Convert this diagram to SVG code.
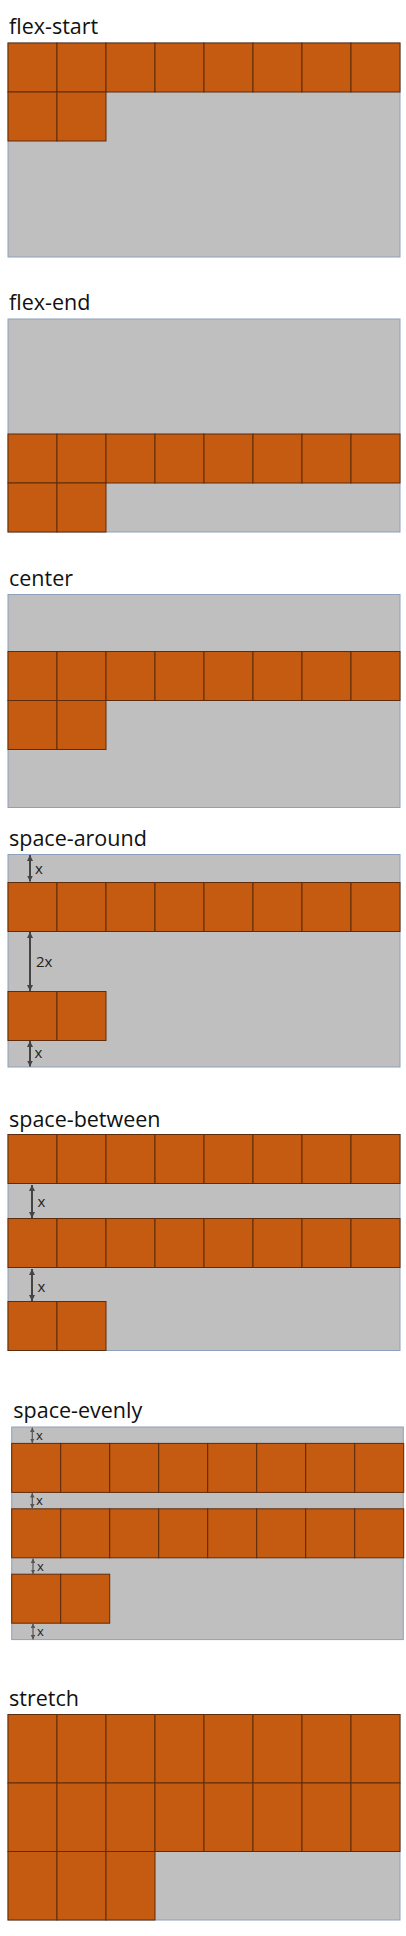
<svg xmlns="http://www.w3.org/2000/svg" width="406" height="1936" viewBox="0 0 406 1936">
<style>
.bg{fill:#FFFFFF}
.box{fill:#BFBFBF;stroke:#8EA1BC;stroke-width:1}
.cell{fill:#C55A11;stroke:#5E2B0B;stroke-width:1}
.title{font-family:"Open Sans","Noto Sans",sans-serif;font-size:21.5px;fill:#111111}
.lbl{font-family:"Open Sans","Noto Sans",sans-serif;font-size:15px;fill:#222222}
.lbls{font-family:"Open Sans","Noto Sans",sans-serif;font-size:13px;fill:#222222}
.dim{stroke:#444444;stroke-width:2;fill:none;marker-start:url(#ah);marker-end:url(#ah)}
.dims{stroke:#555555;stroke-width:1.2;fill:none;marker-start:url(#ahs);marker-end:url(#ahs)}
</style>
<defs>
<marker id="ah" viewBox="0 0 6 6" refX="6" refY="3" markerWidth="6" markerHeight="6" markerUnits="userSpaceOnUse" orient="auto-start-reverse"><path d="M0,0 L6,3 L0,6 z" fill="#444444"/></marker>
<marker id="ahs" viewBox="0 0 5 5" refX="5" refY="2.5" markerWidth="4.5" markerHeight="4.5" markerUnits="userSpaceOnUse" orient="auto-start-reverse"><path d="M0,0 L5,2.5 L0,5 z" fill="#555555"/></marker>
<g id="row8">
<rect class="cell" x="8" y="0" width="49" height="49"/><rect class="cell" x="57" y="0" width="49" height="49"/><rect class="cell" x="106" y="0" width="49" height="49"/><rect class="cell" x="155" y="0" width="49" height="49"/><rect class="cell" x="204" y="0" width="49" height="49"/><rect class="cell" x="253" y="0" width="49" height="49"/><rect class="cell" x="302" y="0" width="49" height="49"/><rect class="cell" x="351" y="0" width="49" height="49"/>
</g>
<g id="row2">
<rect class="cell" x="8" y="0" width="49" height="49"/><rect class="cell" x="57" y="0" width="49" height="49"/>
</g>
</defs>
<rect class="bg" x="0" y="0" width="406" height="1936"/>

<g id="flex-start">
<text class="title" x="9" y="34">flex-start</text>
<rect class="box" x="8" y="43" width="392" height="214"/>
<use href="#row8" y="43"/>
<use href="#row2" y="92"/>
</g>

<g id="flex-end">
<text class="title" x="9" y="310">flex-end</text>
<rect class="box" x="8" y="319" width="392" height="213"/>
<use href="#row8" y="434"/>
<use href="#row2" y="483"/>
</g>

<g id="center">
<text class="title" x="9" y="586">center</text>
<rect class="box" x="8" y="594.5" width="392" height="213"/>
<use href="#row8" y="651.5"/>
<use href="#row2" y="700.5"/>
</g>

<g id="space-around">
<text class="title" x="9" y="846">space-around</text>
<rect class="box" x="8" y="854.5" width="392" height="212.5"/>
<use href="#row8" y="882.5"/>
<use href="#row2" y="991.5"/>
<text class="lbl" x="35" y="874">x</text>
<text class="lbl" x="36" y="967">2x</text>
<text class="lbl" x="34.5" y="1058">x</text>
</g>

<g id="space-between">
<text class="title" x="9" y="1126.7">space-between</text>
<rect class="box" x="8" y="1134.5" width="392" height="216"/>
<use href="#row8" y="1134.5"/>
<use href="#row8" y="1218.5"/>
<use href="#row2" y="1301.5"/>
<text class="lbl" x="37.5" y="1207">x</text>
<text class="lbl" x="37.5" y="1291.5">x</text>
</g>

<g id="space-evenly">
<text class="title" x="13.3" y="1418.3">space-evenly</text>
<rect class="box" x="11.7" y="1427" width="391.6" height="212.6"/>
<use href="#row8" x="3.7" y="1443.4"/>
<use href="#row8" x="3.7" y="1508.8"/>
<use href="#row2" x="3.7" y="1574.2"/>
<text class="lbls" x="36" y="1439.5">x</text>
<text class="lbls" x="36" y="1505">x</text>
<text class="lbls" x="37" y="1570.7">x</text>
<text class="lbls" x="37" y="1636">x</text>
</g>

<g id="stretch">
<text class="title" x="9" y="1705.7">stretch</text>
<rect class="box" x="8" y="1714.5" width="392" height="205.5"/>
<g id="stretch-cells">
<rect class="cell" x="8" y="1714.5" width="49" height="68.5"/><rect class="cell" x="57" y="1714.5" width="49" height="68.5"/><rect class="cell" x="106" y="1714.5" width="49" height="68.5"/><rect class="cell" x="155" y="1714.5" width="49" height="68.5"/><rect class="cell" x="204" y="1714.5" width="49" height="68.5"/><rect class="cell" x="253" y="1714.5" width="49" height="68.5"/><rect class="cell" x="302" y="1714.5" width="49" height="68.5"/><rect class="cell" x="351" y="1714.5" width="49" height="68.5"/>
<rect class="cell" x="8" y="1783" width="49" height="68.5"/><rect class="cell" x="57" y="1783" width="49" height="68.5"/><rect class="cell" x="106" y="1783" width="49" height="68.5"/><rect class="cell" x="155" y="1783" width="49" height="68.5"/><rect class="cell" x="204" y="1783" width="49" height="68.5"/><rect class="cell" x="253" y="1783" width="49" height="68.5"/><rect class="cell" x="302" y="1783" width="49" height="68.5"/><rect class="cell" x="351" y="1783" width="49" height="68.5"/>
<rect class="cell" x="8" y="1851.5" width="49" height="68.5"/><rect class="cell" x="57" y="1851.5" width="49" height="68.5"/><rect class="cell" x="106" y="1851.5" width="49" height="68.5"/>
</g>
</g>

<g id="connectors">
<line class="dim" x1="30" y1="855" x2="30" y2="881.5"/>
<line class="dim" x1="30" y1="932" x2="30" y2="991"/>
<line class="dim" x1="30" y1="1041" x2="30" y2="1066.5"/>
<line class="dim" x1="32" y1="1185" x2="32" y2="1218"/>
<line class="dim" x1="32" y1="1269" x2="32" y2="1301"/>
<line class="dims" x1="32.3" y1="1427.5" x2="32.3" y2="1443"/>
<line class="dims" x1="32.3" y1="1493" x2="32.3" y2="1508.5"/>
<line class="dims" x1="33" y1="1558.5" x2="33" y2="1574"/>
<line class="dims" x1="33" y1="1623.5" x2="33" y2="1639.5"/>
</g>
</svg>
